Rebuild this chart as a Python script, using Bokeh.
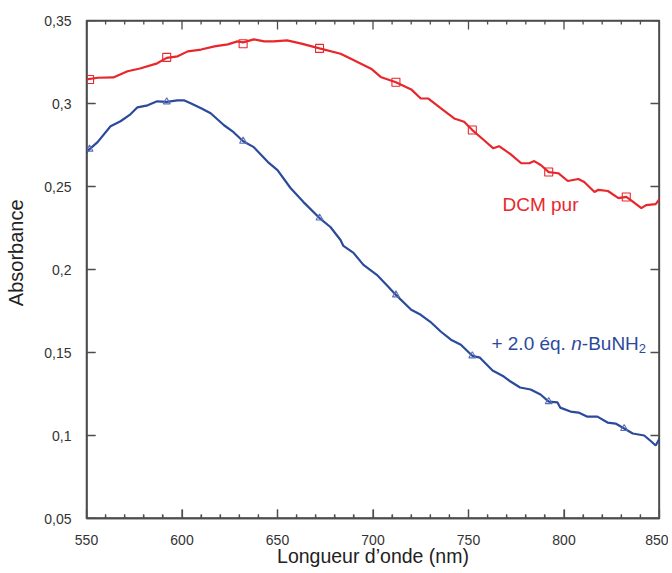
from bokeh.plotting import figure
from bokeh.models import LinearAxis, FixedTicker
from bokeh.core.properties import value
from bokeh.embed import file_html
from bokeh.resources import INLINE

# ---------------- data ----------------
dcm_wl = [550, 556, 564, 571.5, 578, 587, 592, 597.7, 603, 610, 617, 624, 629, 632,
          637.6, 643, 648, 655, 662, 672, 683, 688.4, 699, 704, 712, 720, 725, 729,
          735.6, 742.5, 747.7, 752, 758, 763, 766, 772, 777.6, 781.8, 784.4, 788, 792,
          797, 802, 807.5, 810.6, 816, 818, 823, 828.5, 832.6, 835, 840.5, 843, 848, 850]
dcm_abs = [0.3145, 0.3155, 0.3157, 0.3194, 0.3211, 0.3242, 0.3275, 0.3284, 0.3314, 0.3325,
           0.3344, 0.3356, 0.3374, 0.3368, 0.3386, 0.3374, 0.3374, 0.3380, 0.3362, 0.3332,
           0.3300, 0.3270, 0.3210, 0.3160, 0.3128, 0.3085, 0.3030, 0.3030, 0.2970, 0.2910,
           0.2890, 0.2840, 0.2780, 0.2730, 0.2743, 0.2695, 0.2640, 0.2640, 0.2653, 0.2628,
           0.2587, 0.2580, 0.2533, 0.2545, 0.2527, 0.2467, 0.2480, 0.2473, 0.2430, 0.2437,
           0.2418, 0.2370, 0.2388, 0.2394, 0.2424]

amine_wl = [550, 551.6, 555.8, 562.6, 567.8, 573, 576.7, 582, 587, 592, 597.6, 601, 604.5,
            610, 615, 622, 627, 632, 637.6, 645, 650, 656.8, 663.6, 672, 677.7, 683, 684.5,
            689.8, 695, 702, 708, 712, 720, 725, 730, 735.6, 740.8, 746, 752, 756, 762.6,
            768.5, 772, 777, 782.5, 787.7, 792, 796.6, 798, 803.4, 807.6, 812, 817.5, 822.8,
            827, 831.5, 836, 842, 845.7, 848, 850]
amine_abs = [0.2707, 0.2725, 0.2767, 0.2863, 0.2893, 0.2935, 0.2977, 0.2989, 0.3013, 0.3010,
             0.3019, 0.3019, 0.3001, 0.2971, 0.2941, 0.2869, 0.2827, 0.2773, 0.2737, 0.2647,
             0.2599, 0.2491, 0.2406, 0.2310, 0.2256, 0.2178, 0.2142, 0.2100, 0.2028, 0.1968,
             0.1896, 0.1847, 0.1757, 0.1727, 0.1685, 0.1625, 0.1577, 0.1547, 0.1480, 0.1469,
             0.1391, 0.1355, 0.1325, 0.1289, 0.1277, 0.1247, 0.1204, 0.1199, 0.1168, 0.1144,
             0.1138, 0.1114, 0.1114, 0.1078, 0.1072, 0.1042, 0.1012, 0.1000, 0.0964, 0.0940,
             0.0982]

dcm_marker_wl = [551.6, 592, 632, 672, 712, 752, 792, 832.6]
dcm_marker_abs = [0.3145, 0.3278, 0.3360, 0.3332, 0.3128, 0.2840, 0.2587, 0.2437]
amine_marker_wl = [551.6, 592, 632, 672, 712, 752, 792, 831.5]
amine_marker_abs = [0.2725, 0.3010, 0.2773, 0.2310, 0.1847, 0.1480, 0.1204, 0.1042]

x_ticks = [550, 600, 650, 700, 750, 800, 850]
x_minor = [t for t in range(550, 851, 10) if t % 50 != 0]
y_ticks = [0.05, 0.1, 0.15, 0.2, 0.25, 0.3, 0.35]
y_tick_labels = ["0,05", "0,1", "0,15", "0,2", "0,25", "0,3", "0,35"]

RED = "#e8262b"
BLUE = "#2c4a9c"
BLUE_M = "#5a6fb5"
AX = "#4d4d4d"
FONT = "Liberation Sans"

X0, X1 = x_ticks[0], x_ticks[-1]
Y0, Y1 = y_ticks[0], y_ticks[-1]

p = figure(width=668, height=569, output_backend="svg", toolbar_location=None,
           x_range=(X0, X1), y_range=(Y0, Y1), x_axis_type=None, y_axis_type=None,
           min_border_left=86, min_border_right=9, min_border_top=20, min_border_bottom=50)
p.outline_line_color = AX
p.outline_line_width = 1.3
p.grid.visible = False
p.background_fill_color = "white"
p.border_fill_color = "white"

xt = FixedTicker(ticks=x_ticks, minor_ticks=x_minor)
yt = FixedTicker(ticks=y_ticks, minor_ticks=[])


def style(ax):
    ax.axis_line_color = AX
    ax.axis_line_width = 1.3
    ax.major_tick_line_color = AX
    ax.minor_tick_line_color = AX
    ax.major_tick_line_width = 1.2
    ax.minor_tick_line_width = 1.2
    ax.major_tick_in = 9
    ax.major_tick_out = 0
    ax.minor_tick_in = 4
    ax.minor_tick_out = 0
    ax.major_label_text_font = FONT
    ax.major_label_text_font_size = "14px"
    ax.major_label_text_color = "#333333"
    ax.axis_label_text_font = FONT
    ax.axis_label_text_font_style = "normal"
    ax.axis_label_text_font_size = "19.5px"
    ax.axis_label_text_color = "#222222"


bottom = LinearAxis(ticker=xt, axis_label="Longueur d\u2019onde (nm)")
style(bottom)
bottom.major_label_standoff = 16
bottom.axis_label_standoff = -3
p.add_layout(bottom, "below")

# leading no-break spaces lift the title a little above the frame centre, as in the reference
left = LinearAxis(ticker=yt, axis_label="\u00a0" * 6 + "Absorbance")
style(left)
left.axis_label_text_font_size = "20px"
left.major_label_overrides = {t: s for t, s in zip(y_ticks, y_tick_labels)}
left.major_label_standoff = 15
left.axis_label_standoff = 14
p.add_layout(left, "left")

# frame edges as filled bars centred on the range limits (half falls inside the frame)
p.rect(x=[(X0 + X1) / 2] * 2, y=[Y1, Y0], width=[X1 - X0] * 2, height=[2.6, 2.6],
       height_units="screen", fill_color=AX, line_color=None)
p.rect(x=[X1, X0], y=[(Y0 + Y1) / 2] * 2, height=[Y1 - Y0] * 2, width=[2.6, 2.6],
       width_units="screen", fill_color=AX, line_color=None)

# inward tick marks on all four sides, as small filled bars centred on the frame edges
n_maj, n_min, n_y = len(x_ticks), len(x_minor), len(y_ticks)
p.rect(x=x_ticks * 2, y=[Y0] * n_maj + [Y1] * n_maj, width=1.3, height=18,
       width_units="screen", height_units="screen", fill_color=AX, line_color=None)
p.rect(x=x_minor * 2, y=[Y0] * n_min + [Y1] * n_min, width=1.3, height=8,
       width_units="screen", height_units="screen", fill_color=AX, line_color=None)
p.rect(x=[X0] * n_y + [X1] * n_y, y=y_ticks * 2, width=18, height=1.3,
       width_units="screen", height_units="screen", fill_color=AX, line_color=None)

p.line(dcm_wl, dcm_abs, line_color=RED, line_width=2.2)
p.line(amine_wl, amine_abs, line_color=BLUE, line_width=2.2)
p.scatter(dcm_marker_wl, dcm_marker_abs, marker="square", size=8, fill_color=None,
          line_color=RED, line_width=1.1)
p.scatter(amine_marker_wl, amine_marker_abs, marker="triangle", size=7, fill_color=None,
          line_color=BLUE_M, line_width=1.1)

# series labels
p.text(x=[767.8], y=[0.2394], text=["DCM pur"], text_color=RED, text_font=value(FONT),
       text_font_size="19px", text_baseline="alphabetic", text_align="left")

lab_x, lab_y = 762.0, 0.1553
p.text(x=[lab_x], y=[lab_y], text=["+ 2.0 \u00e9q. "], text_color=BLUE, text_font=value(FONT),
       text_font_size="19px", text_baseline="alphabetic", text_align="left")
p.text(x=[lab_x], y=[lab_y], text=["n"], x_offset=79.8, text_color=BLUE, text_font=value(FONT),
       text_font_style="italic", text_font_size="19px", text_baseline="alphabetic", text_align="left")
p.text(x=[lab_x], y=[lab_y], text=["-BuNH"], x_offset=90.4, text_color=BLUE, text_font=value(FONT),
       text_font_size="19px", text_baseline="alphabetic", text_align="left")
p.text(x=[lab_x], y=[lab_y], text=["2"], x_offset=147.4, y_offset=5, text_color=BLUE,
       text_font=value(FONT), text_font_size="13px", text_baseline="alphabetic", text_align="left")

open("out.html", "w").write(file_html(p, INLINE))
